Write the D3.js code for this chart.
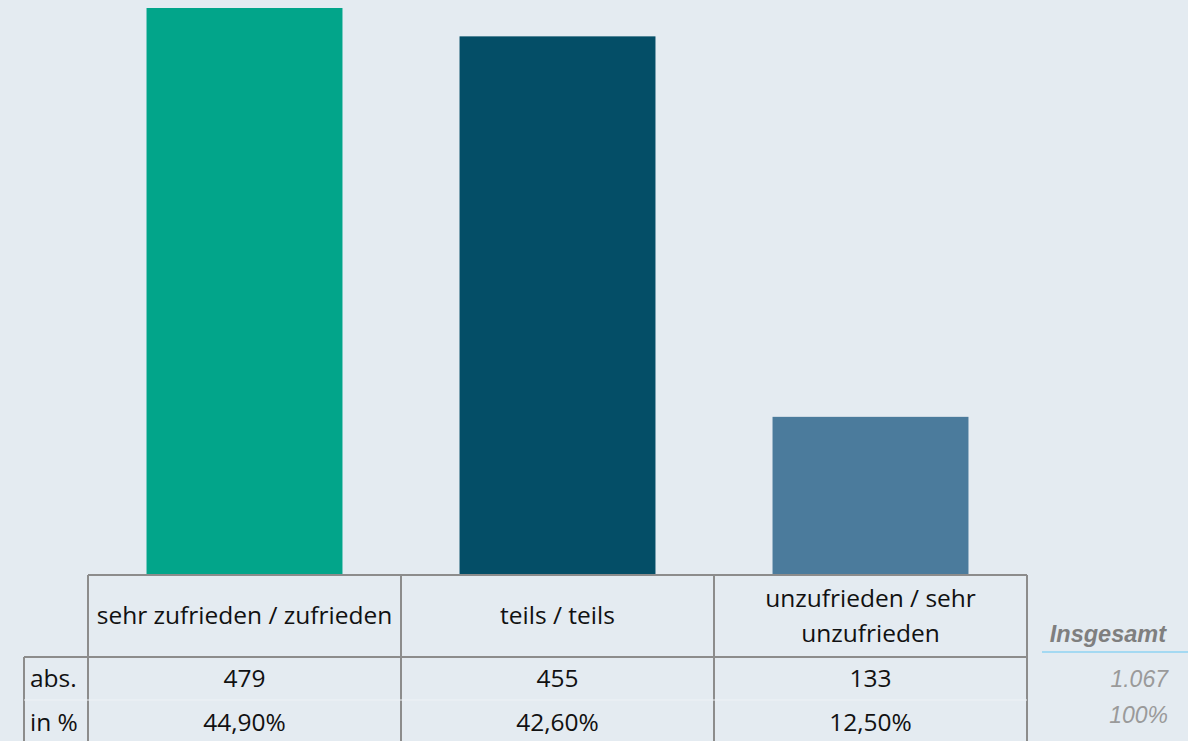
<!DOCTYPE html>
<html>
<head>
<meta charset="utf-8">
<script src="https://cdn.jsdelivr.net/npm/d3@7"></script>
<style>
  body { margin: 0; background: #e4ebf1; }
  svg { display: block; }
</style>
</head>
<body>
<script>
const width = 1188
const height = 741
const bg = "#e4ebf1"
const lineColor = "#8c8c8c"

// data
const categories = ["sehr zufrieden / zufrieden", "teils / teils", "unzufrieden / sehr unzufrieden"]
const headerLines = [["sehr zufrieden / zufrieden"], ["teils / teils"], ["unzufrieden / sehr", "unzufrieden"]]
const absValues = [479, 455, 133]
const pctLabels = ["44,90%", "42,60%", "12,50%"]
const barColors = ["#02a58a", "#044e67", "#4b7b9c"]
const rowLabels = ["abs.", "in %"]
const totalLabel = "Insgesamt"
const totalValues = ["1.067", "100%"]

const tableFont = "'Open Sans', 'Noto Sans', sans-serif"
const tableSize = 24.5

let svg = d3.select("body")
    .append("svg")
    .attr("width", width)
    .attr("height", height)

svg.append("rect")
    .attr("width", "100%")
    .attr("height", "100%")
    .attr("fill", bg)

let x = d3.scaleBand()
    .domain(categories)
    .range([88, 1027])
    .padding(0)

let y = d3.scaleLinear()
    .domain([0, d3.max(absValues)])
    .range([574, 8])

const barW = x.bandwidth() * 0.626

// bars
svg.selectAll(".bar")
    .data(categories)
    .enter()
    .append("rect")
    .attr("class", "bar")
    .attr("x", d => x(d) + (x.bandwidth() - barW) / 2)
    .attr("width", barW)
    .attr("y", (d, i) => y(absValues[i]))
    .attr("height", (d, i) => y(0) - y(absValues[i]))
    .attr("fill", (d, i) => barColors[i])

// table grid
const headTop = 575
const headBottom = 657
const tableLeft = 24

let grid = svg.append("g")
    .attr("stroke", lineColor)
    .attr("stroke-width", 2)
    .attr("fill", "none")

grid.append("line")
    .attr("x1", 88).attr("x2", 1027)
    .attr("y1", headTop).attr("y2", headTop)

grid.append("line")
    .attr("x1", tableLeft).attr("x2", 1027)
    .attr("y1", headBottom).attr("y2", headBottom)

grid.append("line")
    .attr("x1", tableLeft).attr("x2", tableLeft)
    .attr("y1", headBottom).attr("y2", height)

// column borders
let edges = categories.map(d => x(d)).concat([x.range()[1]])
grid.selectAll(".col")
    .data(edges)
    .enter()
    .append("line")
    .attr("x1", d => d).attr("x2", d => d)
    .attr("y1", headTop).attr("y2", height)

// faint row divider
svg.append("line")
    .attr("x1", tableLeft).attr("x2", 1027)
    .attr("y1", 700).attr("y2", 700)
    .attr("stroke", "#eef2f6")
    .attr("stroke-width", 1)

// header labels
svg.selectAll(".head")
    .data(categories)
    .enter()
    .append("text")
    .attr("text-anchor", "middle")
    .attr("font-family", tableFont)
    .attr("font-size", tableSize)
    .attr("fill", "#111")
    .each(function(d, i){
        let lines = headerLines[i]
        let t = d3.select(this)
        let start = 624 - (lines.length - 1) * 17
        lines.forEach((l, j) => {
            t.append("tspan")
                .attr("x", x(d) + x.bandwidth() / 2)
                .attr("y", start + j * 35)
                .text(l)
        })
    })

// rows
const rowY = [687, 731]
const rowData = [absValues.map(v => String(v)), pctLabels]

svg.selectAll(".rowLabel")
    .data(rowLabels)
    .enter()
    .append("text")
    .attr("x", 30)
    .attr("y", (d, i) => rowY[i])
    .attr("font-family", tableFont)
    .attr("font-size", tableSize)
    .attr("fill", "#111")
    .text(d => d)

rowData.forEach((row, r) => {
    svg.selectAll(".cell" + r)
        .data(row)
        .enter()
        .append("text")
        .attr("x", (d, i) => x(categories[i]) + x.bandwidth() / 2)
        .attr("y", rowY[r])
        .attr("text-anchor", "middle")
        .attr("font-family", tableFont)
        .attr("font-size", tableSize)
        .attr("fill", "#111")
        .text(d => d)
})

// totals
svg.append("text")
    .attr("x", 1166)
    .attr("y", 642)
    .attr("text-anchor", "end")
    .attr("font-family", "'Liberation Sans', Arial, sans-serif")
    .attr("font-size", 23.5)
    .attr("font-weight", "bold")
    .attr("font-style", "italic")
    .attr("fill", "#7f7f7f")
    .text(totalLabel)

svg.append("line")
    .attr("x1", 1042).attr("x2", width)
    .attr("y1", 652).attr("y2", 652)
    .attr("stroke", "#8fd3f2")
    .attr("stroke-width", 1.5)

svg.selectAll(".total")
    .data(totalValues)
    .enter()
    .append("text")
    .attr("x", 1168)
    .attr("y", (d, i) => [687, 723][i])
    .attr("text-anchor", "end")
    .attr("font-family", "'Liberation Sans', Arial, sans-serif")
    .attr("font-size", 23)
    .attr("font-style", "italic")
    .attr("fill", "#9a9a9a")
    .text(d => d)
</script>
</body>
</html>
